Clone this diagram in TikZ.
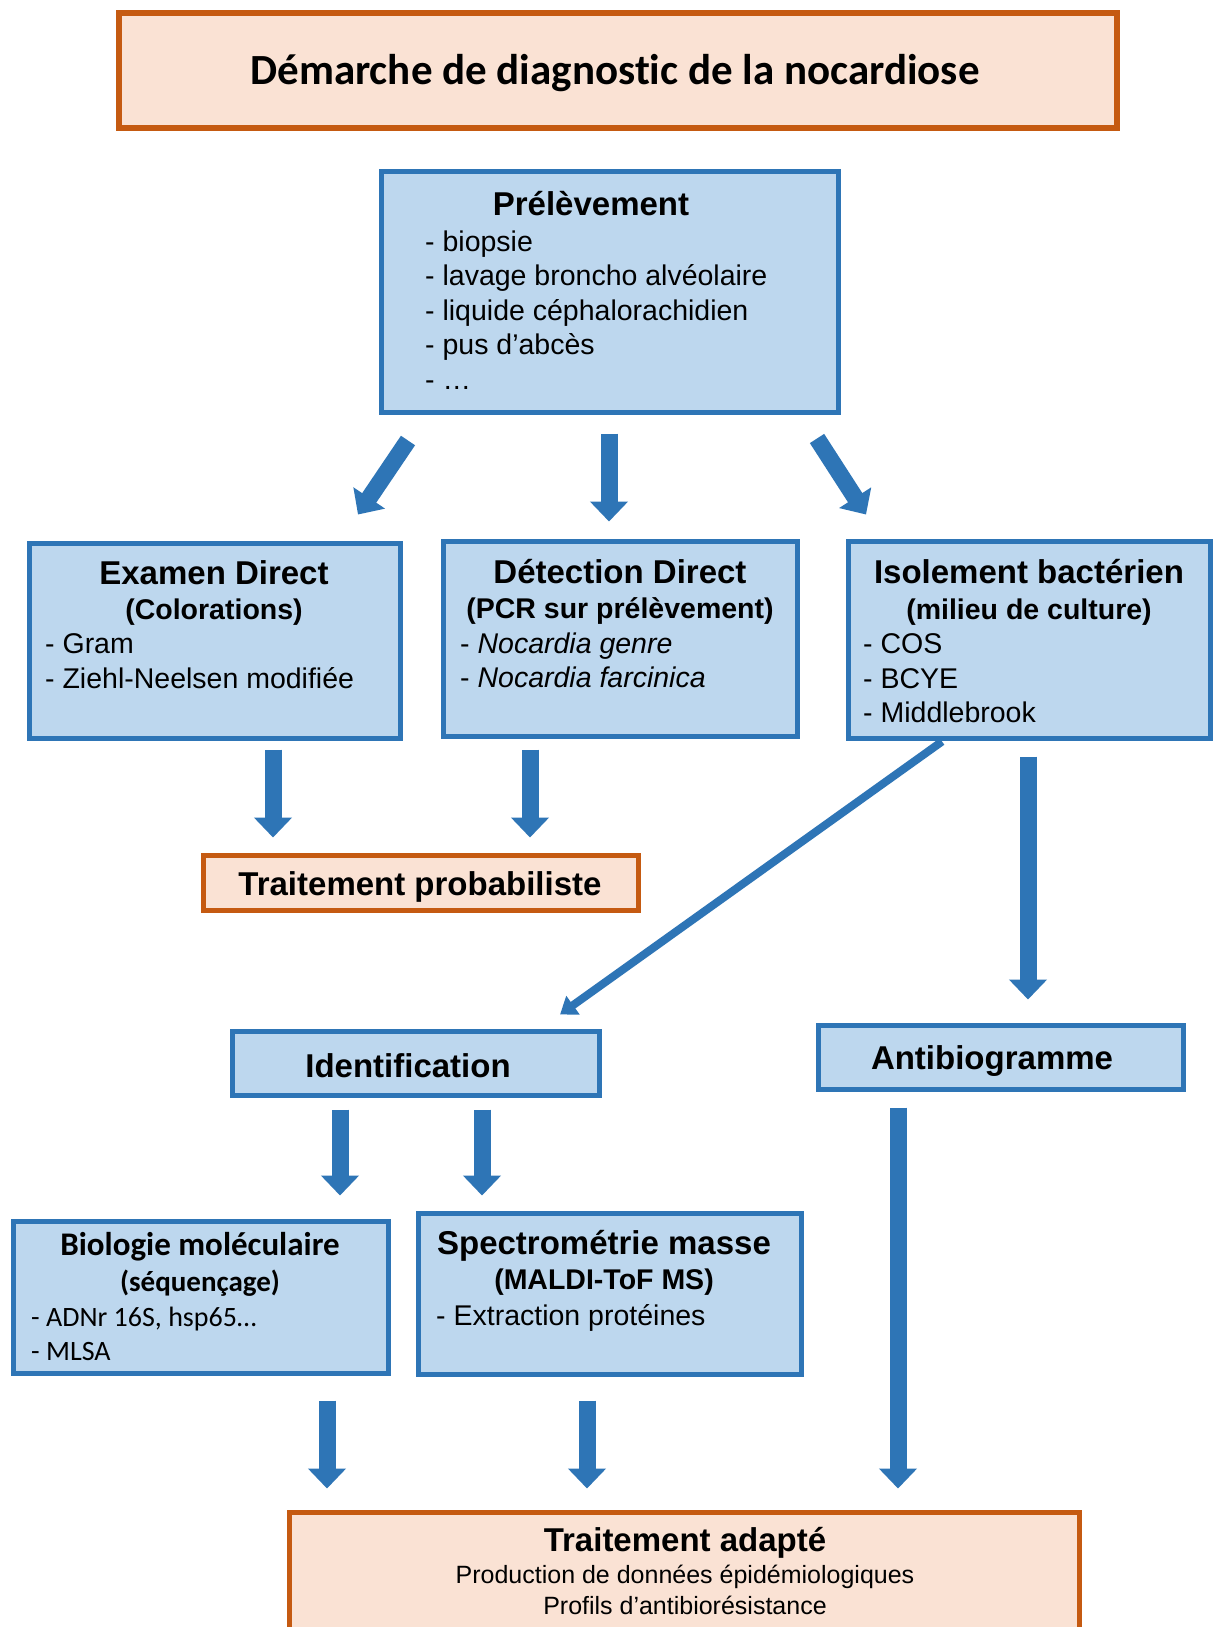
\documentclass[tikz,border=0pt]{standalone}
\usepackage{fontspec}
\setmainfont{Liberation Sans}
\newfontfamily\calibri[Ligatures=CommonOff]{Carlito}
\usetikzlibrary{arrows.meta,calc}
\definecolor{bfill}{RGB}{189,215,238}
\definecolor{bdraw}{RGB}{46,117,182}
\definecolor{ofill}{RGB}{250,226,212}
\definecolor{odraw}{RGB}{197,90,17}
\begin{document}
\begin{tikzpicture}[x=1pt,y=-1pt,
  bluebox/.style={draw=bdraw,fill=bfill,line width=5pt,inner sep=0pt},
  orangebox/.style={draw=odraw,fill=ofill,line width=5pt,inner sep=0pt},
  hd/.style={inner sep=0pt,anchor=base,font=\bfseries\fontsize{33}{38}\selectfont},
  sub/.style={inner sep=0pt,anchor=base,font=\bfseries\fontsize{28.5}{33}\selectfont},
  item/.style={inner sep=0pt,anchor=base west,font=\fontsize{28.5}{33}\selectfont},
  citem/.style={inner sep=0pt,anchor=base west,font=\calibri\fontsize{28}{33}\selectfont},
  small/.style={inner sep=0pt,anchor=base,font=\fontsize{25}{30}\selectfont},
  barrow/.style={draw=bdraw,line width=17pt,-{Triangle[width=37pt,length=20pt]}},
  tarrow/.style={draw=bdraw,line width=8pt,-{Triangle[width=22pt,length=16pt]}}]
\useasboundingbox[fill=white] (0,0) rectangle (1215,1627);

% title
\node[orangebox,line width=6pt,minimum width=998pt,minimum height=115pt] (title) at (618,70.5) {};
\node[inner sep=0pt,anchor=base,font=\calibri\bfseries\fontsize{43}{48}\selectfont] (titletxt) at (615,85) {Démarche de diagnostic de la nocardiose};

% Prelevement
\node[bluebox,minimum width=457pt,minimum height=241pt] (pre) at (610,292) {};
\node[hd] (preh) at (591,215) {Prélèvement};
\node[item] (pre1) at (425,251) {- biopsie};
\node[item] (pre2) at (425,285.5) {- lavage broncho alvéolaire};
\node[item] (pre3) at (425,320) {- liquide céphalorachidien};
\node[item] (pre4) at (425,354.5) {- pus d’abcès};
\node[item] (pre5) at (425,389) {- …};

% Examen direct
\node[bluebox,minimum width=371pt,minimum height=195pt] (ex) at (215,641) {};
\node[hd] (exh) at (214,584) {Examen Direct};
\node[sub] (exs) at (214,619) {(Colorations)};
\node[item] (ex1) at (45,653) {- Gram};
\node[item] (ex2) at (45,688) {- Ziehl-Neelsen modifiée};

% Detection direct
\node[bluebox,minimum width=354pt,minimum height=195pt] (det) at (620.5,639) {};
\node[hd] (deth) at (620,583) {Détection Direct};
\node[sub] (dets) at (620,618) {(PCR sur prélèvement)};
\node[item] (det1) at (460,653) {- \textit{Nocardia genre}};
\node[item] (det2) at (460,687) {- \textit{Nocardia farcinica}};

% Isolement
\node[bluebox,minimum width=362pt,minimum height=197pt] (iso) at (1029.5,640) {};
\node[hd] (isoh) at (1029,583) {Isolement bactérien};
\node[sub] (isos) at (1029,619) {(milieu de culture)};
\node[item] (iso1) at (863,653) {- COS};
\node[item] (iso2) at (863,688) {- BCYE};
\node[item] (iso3) at (863,722) {- Middlebrook};

% Traitement probabiliste
\node[orangebox,minimum width=435pt,minimum height=55pt] (tp) at (421,883) {};
\node[hd] (tpt) at (420,895) {Traitement probabiliste};

% Identification / Antibiogramme
\node[bluebox,minimum width=367pt,minimum height=64pt] (ident) at (416,1063.5) {};
\node[hd] (identt) at (408,1077) {Identification};
\node[bluebox,minimum width=365pt,minimum height=64pt] (anti) at (1001,1057.5) {};
\node[hd] (antit) at (992,1069) {Antibiogramme};

% Biologie moleculaire
\node[bluebox,minimum width=375pt,minimum height=152pt] (bio) at (201,1297.5) {};
\node[hd,font=\calibri\bfseries\fontsize{33}{38}\selectfont] (bioh) at (200,1255) {Biologie moléculaire};
\node[sub,font=\calibri\bfseries\fontsize{29}{33}\selectfont] (bios) at (200,1291) {(séquençage)};
\node[citem] (bio1) at (31,1326) {- ADNr 16S, hsp65…};
\node[citem] (bio2) at (31,1360) {- MLSA};

% Spectrometrie
\node[bluebox,minimum width=383pt,minimum height=161pt] (spec) at (610,1294) {};
\node[hd] (spech) at (604,1254) {Spectrométrie masse};
\node[sub] (specs) at (604,1289) {(MALDI-ToF MS)};
\node[item] (spec1) at (436,1325) {- Extraction protéines};

% Traitement adapte
\node[orangebox,minimum width=790pt,minimum height=145pt] (ta) at (684.5,1585) {};
\node[hd] (tah) at (685,1551) {Traitement adapté};
\node[small] (ta1) at (685,1583) {Production de données épidémiologiques};
\node[small] (ta2) at (685,1614) {Profils d’antibiorésistance};

% arrows
\draw[barrow] ($(pre.south)+(-202,25.5)$) -- ($(ex.north)+(143,-26.5)$);
\draw[barrow] ($(pre.south)+(-1,18.5)$) -- ($(det.north)+(-11.5,-17.5)$);
\draw[barrow] ($(pre.south)+(207,23.5)$) -- ($(iso.north)+(-163.5,-24.5)$);
\draw[barrow] ($(ex.south)+(58,8.5)$) -- ($(tp.north)+(-148,-15.5)$);
\draw[barrow] ($(det.south)+(-90.5,10.5)$) -- ($(tp.north)+(109,-15.5)$);
\draw[tarrow] ($(iso.south)+(-87.5,0.5)$) -- ($(ident.north)+(144,-14.5)$);
\draw[barrow] ($(iso.south)+(-1.5,15.5)$) -- ($(anti.north)+(27,-23.5)$);
\draw[barrow] ($(ident.south)+(-76,11.5)$) -- ($(bio.north)+(139,-23.5)$);
\draw[barrow] ($(ident.south)+(66,11.5)$) -- ($(spec.north)+(-128,-15.5)$);
\draw[barrow] ($(anti.south)+(-103,15.5)$) -- ($(ta.north)+(213.5,-21.5)$);
\draw[barrow] ($(bio.south)+(126,24.5)$) -- ($(ta.north)+(-357.5,-21.5)$);
\draw[barrow] ($(spec.south)+(-23,23.5)$) -- ($(ta.north)+(-97.5,-21.5)$);
\end{tikzpicture}
\end{document}
